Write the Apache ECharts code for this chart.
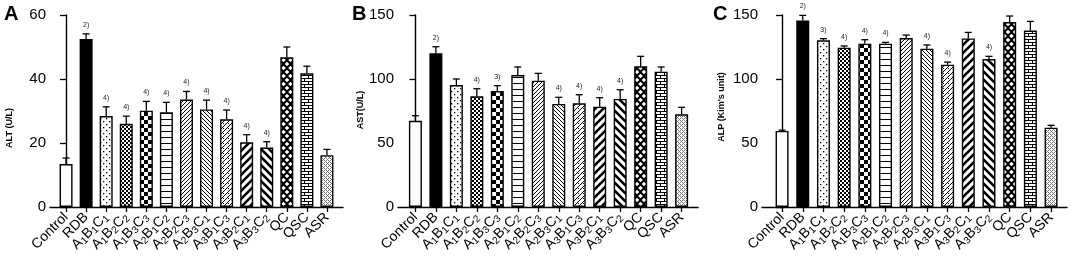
<!DOCTYPE html>
<html>
<head>
<meta charset="utf-8">
<script src="https://cdn.jsdelivr.net/npm/echarts@6/dist/echarts.min.js"></script>
<style>
html,body{margin:0;padding:0;background:#fff;}
#main{width:1072px;height:263px;}
</style>
</head>
<body>
<div id="main"></div>
<script>
// groups (same order in all three panels)
var groups = ['Control','RDB','A1B1C1','A1B2C2','A1B3C3','A2B1C2','A2B2C3','A2B3C1','A3B1C3','A3B2C1','A3B3C2','QC','QSC','ASR'];
var tickPos = [0,1,2,3,4,5,6,7,8,9,10,11,12,13];

// A: ALT (U/L)
var altMean = [13.4,52.5,28.4,26.0,30.1,29.6,33.6,30.5,27.4,20.2,18.6,46.8,41.8,16.2];
var altSd   = [1.9,1.6,2.9,2.4,2.9,3.1,2.5,2.9,2.9,2.4,1.8,3.2,2.2,1.8];
var altSig  = ['','2)','4)','4)','4)','4)','4)','4)','4)','4)','4)','','',''];

// B: AST(U/L)
var astMean = [67.4,120.1,95.3,86.5,90.6,103.1,98.7,80.5,81.0,78.4,84.4,109.9,105.7,72.4];
var astSd   = [3.9,5.1,4.7,5.9,4.2,6.3,5.7,5.2,6.7,7.0,7.2,7.8,3.7,5.5];
var astSig  = ['','2)','','4)','3)','','','4)','4)','4)','4)','','',''];

// C: ALP (Kim's unit)
var alpMean = [59.4,145.8,130.2,124.5,127.6,127.6,132.0,123.7,111.2,131.7,115.6,144.5,137.9,62.0];
var alpSd   = [0.6,3.9,1.3,1.3,3.1,1.0,2.3,2.9,2.0,4.7,2.1,4.7,7.1,1.8];
var alpSig  = ['','2)','3)','4)','4)','4)','','4)','4)','','4)','','',''];

var FONT = "'Liberation Sans', Arial, sans-serif";

//填充图案
function makePattern(kind){
	var c = document.createElement('canvas');
	var w = 6, h = 6;
	if(kind=='checker') {w=8;h=8;}
	if(kind=='fwd' || kind=='back') {w=4;h=4;}
	if(kind=='thickf' || kind=='thickb') {w=8;h=8;}
	if(kind=='diamond') {w=7;h=8;}
	if(kind=='brick') {w=8;h=6;}
	if(kind=='hatch') {w=5;h=5;}
	if(kind=='weave') {w=4;h=4;}
	if(kind=='mesh') {w=4;h=4;}
	c.width = w; c.height = h;
	var g = c.getContext('2d');
	g.fillStyle = '#fff';
	g.fillRect(0,0,w,h);
	g.fillStyle = '#000';
	g.strokeStyle = '#000';
	if(kind=='solid'){
		g.fillRect(0,0,w,h);
	}else if(kind=='dots'){
		g.fillRect(1,1,1.3,1.3);
		g.fillRect(4,4,1.3,1.3);
	}else if(kind=='mesh'){
		g.fillRect(0,0,2,2);
		g.fillRect(2,2,2,2);
	}else if(kind=='checker'){
		g.fillRect(0,0,4,4);
		g.fillRect(4,4,4,4);
	}else if(kind=='hline'){
		g.fillRect(0,5,w,1.2);
	}else if(kind=='fwd' || kind=='back' || kind=='hatch'){
		g.lineWidth = 1;
		g.beginPath();
		if(kind=='back'){
			g.moveTo(-1,-1); g.lineTo(w+1,h+1);
			g.moveTo(-1,h-1); g.lineTo(1,h+1);
			g.moveTo(w-1,-1); g.lineTo(w+1,1);
		}else{
			g.moveTo(-1,h+1); g.lineTo(w+1,-1);
			g.moveTo(-1,1); g.lineTo(1,-1);
			g.moveTo(w-1,h+1); g.lineTo(w+1,h-1);
		}
		g.stroke();
		if(kind=='hatch'){
			g.fillRect(3,3,1,1);
		}
	}else if(kind=='thickf' || kind=='thickb'){
		g.lineWidth = 2.6;
		g.beginPath();
		if(kind=='thickb'){
			g.moveTo(-2,-2); g.lineTo(w+2,h+2);
			g.moveTo(-2,h-2); g.lineTo(2,h+2);
			g.moveTo(w-2,-2); g.lineTo(w+2,2);
		}else{
			g.moveTo(-2,h+2); g.lineTo(w+2,-2);
			g.moveTo(-2,2); g.lineTo(2,-2);
			g.moveTo(w-2,h+2); g.lineTo(w+2,h-2);
		}
		g.stroke();
	}else if(kind=='diamond'){
		g.fillRect(0,0,w,h);
		g.fillStyle = '#fff';
		var d = function(cx,cy){
			g.beginPath();
			g.moveTo(cx,cy-2.3); g.lineTo(cx+2.3,cy); g.lineTo(cx,cy+2.3); g.lineTo(cx-2.3,cy);
			g.closePath(); g.fill();
		};
		d(3.5,4); d(0,0); d(w,0); d(0,h); d(w,h);
	}else if(kind=='brick'){
		g.fillRect(0,0,w,1);
		g.fillRect(0,3,w,1);
		g.fillRect(0,0,1,3);
		g.fillRect(4,3,1,3);
	}else if(kind=='weave'){
		// 小的灰色v形
		g.fillStyle = '#777';
		g.fillRect(0,0,1,1);
		g.fillRect(1,1,1,1);
		g.fillRect(2,0,1,1);
		g.fillRect(2,2,1,1);
		g.fillRect(3,3,1,1);
		g.fillRect(0,2,1,1);
	}
	return c;
}

var kinds = ['blank','solid','dots','mesh','checker','hline','fwd','back','hatch','thickf','thickb','diamond','brick','weave'];
var fills = kinds.map(function(k){
	if(k=='blank') return '#fff';
	if(k=='solid') return '#000';
	return {image: makePattern(k), repeat: 'repeat'};
});

function labelText(v){
	var name = groups[Math.round(v)];
	if(name==null) return '';
	return name.replace(/(\d)/g, '{s|$1}');
}

//三个面板的布局
var panels = [
	{left:50, width:293, min:-0.8, max:13.8, yMax:60, step:20, mean:altMean, sd:altSd, sig:altSig},
	{left:398, width:300, min:-0.85, max:13.8, yMax:150, step:50, mean:astMean, sd:astSd, sig:astSig},
	{left:762, width:305, min:-0.97, max:13.77, yMax:150, step:50, mean:alpMean, sd:alpSd, sig:alpSig}
];

var grids = [], xAxes = [], yAxes = [], series = [];
panels.forEach(function(p, k){
	grids.push({left:p.left, top:15, width:p.width, height:192});
	xAxes.push({
		type:'value', gridIndex:k, min:p.min, max:p.max,
		splitLine:{show:false},
		axisLine:{show:true, onZero:false, lineStyle:{color:'#000', width:1.4}},
		axisTick:{show:true, customValues:tickPos, length:5, lineStyle:{color:'#000', width:1.3}},
		axisLabel:{
			customValues:tickPos, rotate:45, margin:8, color:'#000',
			fontSize:14, fontFamily:FONT,
			formatter:labelText,
			rich:{s:{fontSize:10, fontFamily:FONT, color:'#000', verticalAlign:'bottom', padding:[6,0,0,0]}}
		}
	});
	yAxes.push({
		type:'value', gridIndex:k, min:0, max:p.yMax, interval:p.step,
		splitLine:{show:false},
		axisLine:{show:true, lineStyle:{color:'#000', width:1.4}},
		axisTick:{show:true, length:6, lineStyle:{color:'#000', width:1.3}},
		axisLabel:{color:'#000', fontSize:15, fontFamily:FONT, margin:4}
	});
	series.push({
		type:'bar', xAxisIndex:k, yAxisIndex:k, barWidth:13, animation:false,
		data:p.mean.map(function(v,i){
			return {value:[i,v], itemStyle:{color:fills[i], borderColor:'#000', borderWidth:1.4}};
		})
	});
	series.push({
		type:'custom', xAxisIndex:k, yAxisIndex:k, animation:false, clip:false, z:3,
		data:p.mean.map(function(v,i){ return [i, v, p.sd[i]]; }),
		renderItem:function(params, api){
			var i = api.value(0), m = api.value(1), e = api.value(2);
			var p0 = api.coord([i, m]);
			var p1 = api.coord([i, m+e]);
			var sig = p.sig[params.dataIndex];
			var children = [
				{type:'line', shape:{x1:p0[0], y1:p0[1], x2:p1[0], y2:p1[1]}, style:{stroke:'#000', lineWidth:1.3}},
				{type:'line', shape:{x1:p1[0]-3.5, y1:p1[1], x2:p1[0]+3.5, y2:p1[1]}, style:{stroke:'#000', lineWidth:1.3}}
			];
			if(sig){
				children.push({type:'text', x:p1[0], y:p1[1]-9,
					style:{text:sig, fill:'#222', font:'7px '+FONT, align:'center', verticalAlign:'middle'}});
			}
			return {type:'group', children:children};
		}
	});
});

var chart = echarts.init(document.getElementById('main'), null, {renderer:'canvas'});
chart.setOption({
	backgroundColor:'#fff',
	animation:false,
	grid:grids,
	xAxis:xAxes,
	yAxis:yAxes,
	series:series,
	graphic:[
		{type:'text', left:4, top:4, style:{text:'A', font:'bold 20px '+FONT, fill:'#000'}},
		{type:'text', left:352, top:4, style:{text:'B', font:'bold 20px '+FONT, fill:'#000'}},
		{type:'text', left:713, top:4, style:{text:'C', font:'bold 20px '+FONT, fill:'#000'}},
		{type:'text', x:10, y:128, rotation:Math.PI/2, style:{text:'ALT (U/L)', font:'bold 9px '+FONT, fill:'#000', align:'center', verticalAlign:'middle'}},
		{type:'text', x:361, y:110, rotation:Math.PI/2, style:{text:'AST(U/L)', font:'bold 9px '+FONT, fill:'#000', align:'center', verticalAlign:'middle'}},
		{type:'text', x:722, y:107, rotation:Math.PI/2, style:{text:"ALP (Kim's unit)", font:'bold 9px '+FONT, fill:'#000', align:'center', verticalAlign:'middle'}}
	]
});
</script>
</body>
</html>
